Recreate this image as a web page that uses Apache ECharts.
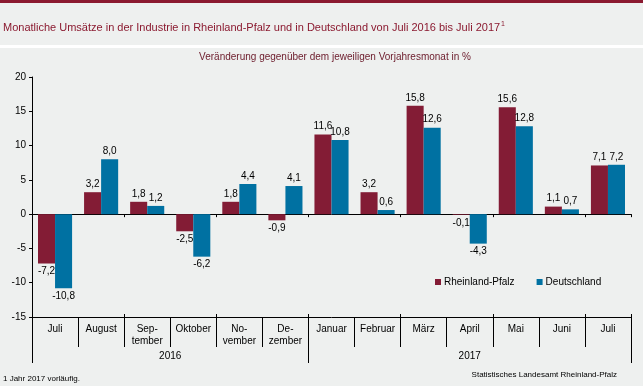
<!DOCTYPE html>
<html><head><meta charset="utf-8">
<script src="https://cdn.jsdelivr.net/npm/echarts@6/dist/echarts.min.js"></script>
<style>html,body{margin:0;padding:0;background:#eef0ef;}#c{width:643px;height:386px;}</style>
</head><body><div id="c"></div>
<script>
const months = ['Juli','August','Sep-\ntember','Oktober','No-\nvember','De-\nzember','Januar','Februar','März','April','Mai','Juni','Juli'];
const years = ['2016','2017'];
const monthsPerYear = [6,7];
const rlp = [-7.2, 3.2, 1.8, -2.5, 1.8, -0.9, 11.6, 3.2, 15.8, -0.1, 15.6, 1.1, 7.1];
const de = [-10.8, 8.0, 1.2, -6.2, 4.4, 4.1, 10.8, 0.6, 12.6, -4.3, 12.8, 0.7, 7.2];
const yTicks = {min:-15, max:20, interval:5};

const font = 'Liberation Sans, Arial, sans-serif';
const yearBounds = [0]; monthsPerYear.forEach(n => yearBounds.push(yearBounds[yearBounds.length-1]+n));
const yearCenters = years.map((y,i) => (yearBounds[i]+yearBounds[i+1])/2);
const fmt = v => v.toFixed(1).replace('.', ',');
const mk = arr => arr.map(v => ({value:v, label:{position: v<0?'bottom':'top'}}));

const chart = echarts.init(document.getElementById('c'), null, {renderer:'canvas'});
const catBase = {type:'category', data:months, gridIndex:0, boundaryGap:true};
chart.setOption({
  backgroundColor:'#eef0ef',
  animation:false,
  textStyle:{fontFamily:font},
  graphic:[
    {type:'rect', shape:{x:0,y:0,width:643,height:3}, style:{fill:'#8b1a30'}},
    {type:'rect', shape:{x:0,y:45,width:643,height:3}, style:{fill:'#ffffff'}}
  ],
  title:[
    {text:'Monatliche Umsätze in der Industrie in Rheinland-Pfalz und in Deutschland von Juli 2016 bis Juli 2017{sup|1}',
     left:-2, top:16,
     textStyle:{fontFamily:font, fontSize:11, fontWeight:'normal', color:'#8b1a30',
       rich:{sup:{fontSize:7, color:'#8b1a30', verticalAlign:'top', padding:[0,0,6,1]}}}},
    {text:'Veränderung gegenüber dem jeweiligen Vorjahresmonat in %', left:330, textAlign:'center', top:47,
     textStyle:{fontFamily:font, fontSize:10, fontWeight:'normal', color:'#6b1a2a'}},
    {text:'1 Jahr 2017 vorläufig.', left:-2, top:370,
     textStyle:{fontFamily:font, fontSize:8, fontWeight:'normal', color:'#000'}},
    {text:'Statistisches Landesamt Rheinland-Pfalz', right:21, top:366,
     textStyle:{fontFamily:font, fontSize:8, fontWeight:'normal', color:'#000'}}
  ],
  legend:{left:430, top:272, itemWidth:6, itemHeight:6, itemGap:22, icon:'rect',
    textStyle:{fontFamily:font, fontSize:10, color:'#000', padding:[0,0,0,-2]},
    data:['Rheinland-Pfalz','Deutschland']},
  grid:{left:32, right:12, top:77, bottom:69, containLabel:false},
  xAxis:[
    Object.assign({}, catBase, {axisLine:{onZero:true, lineStyle:{color:'#000', width:1}},
      axisTick:{show:true, length:3, inside:false, lineStyle:{color:'#000'}}, axisLabel:{show:false}}),
    Object.assign({}, catBase, {position:'bottom', axisLine:{onZero:true, lineStyle:{color:'#000', width:1}},
      axisTick:{show:true, length:3, inside:true, lineStyle:{color:'#000'}}, axisLabel:{show:false}}),
    Object.assign({}, catBase, {position:'bottom', axisLine:{show:false, onZero:false},
      axisTick:{show:true, length:30, interval:0, lineStyle:{color:'#000'}},
      axisLabel:{show:true, interval:0, margin:6, fontSize:10, color:'#000', lineHeight:12, fontFamily:font}}),
    {type:'value', gridIndex:0, position:'bottom', min:0, max:yearBounds[yearBounds.length-1],
      axisLine:{show:false, onZero:false}, splitLine:{show:false},
      axisTick:{show:true, length:46, customValues:yearBounds, lineStyle:{color:'#000'}},
      axisLabel:{show:true, margin:34, fontSize:10, color:'#000', fontFamily:font, customValues:yearCenters,
        formatter:(v)=>{const i=yearCenters.indexOf(v); return i>=0?years[i]:'';}}}
  ],
  yAxis:{type:'value', min:yTicks.min, max:yTicks.max, interval:yTicks.interval,
    axisLine:{show:true, onZero:false, lineStyle:{color:'#000'}},
    axisTick:{show:true, length:3, lineStyle:{color:'#000'}},
    splitLine:{show:false},
    axisLabel:{fontSize:10, color:'#000', margin:6, fontFamily:font}},
  series:[
    {name:'Rheinland-Pfalz', type:'bar', xAxisIndex:0, data:mk(rlp), barGap:'0%', barCategoryGap:'26%',
      itemStyle:{color:'#831c35'},
      label:{show:true, fontSize:10, color:'#000', distance:3, fontFamily:font, formatter:p=>fmt(p.value)}},
    {name:'Deutschland', type:'bar', xAxisIndex:0, data:mk(de), barGap:'0%', barCategoryGap:'26%',
      itemStyle:{color:'#0071a2'},
      label:{show:true, fontSize:10, color:'#000', distance:3, fontFamily:font, formatter:p=>fmt(p.value)}}
  ]
});
</script></body></html>
